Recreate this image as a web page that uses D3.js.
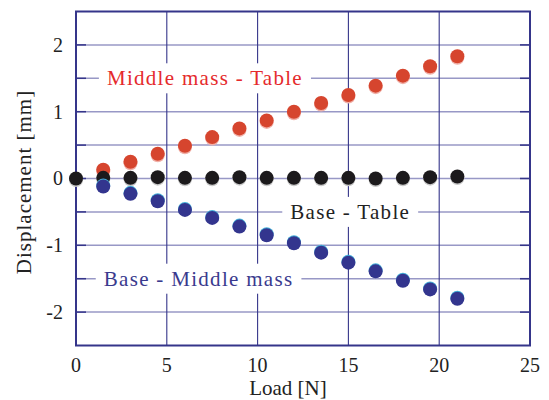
<!DOCTYPE html>
<html>
<head>
<meta charset="utf-8">
<script src="https://cdn.jsdelivr.net/npm/d3@7"></script>
<style>
  body { margin: 0; background: #fff; }
  svg { display: block; font-family: "Liberation Serif", "Times New Roman", serif; }
</style>
</head>
<body>
<div id="chart"></div>
<script>
// load steps [N]
const loads = [0, 1.5, 3, 4.5, 6, 7.5, 9, 10.5, 12, 13.5, 15, 16.5, 18, 19.5, 21];

// displacement [mm] per pair
const middleTable = [null, 0.13, 0.25, 0.37, 0.49, 0.62, 0.75, 0.87, 1.0, 1.13, 1.25, 1.39, 1.54, 1.68, 1.83];
const baseTable = [0, 0.01, 0.01, 0.02, 0.01, 0.01, 0.02, 0.01, 0.01, 0.01, 0.01, 0.0, 0.01, 0.02, 0.03];
const baseMiddle = [null, -0.12, -0.23, -0.34, -0.47, -0.59, -0.72, -0.85, -0.97, -1.11, -1.26, -1.39, -1.53, -1.66, -1.80];

const xTicks = [0, 5, 10, 15, 20, 25];
const yTicks = [-2, -1, 0, 1, 2];
const yGrid = [-2, -1.5, -1, -0.5, 0, 0.5, 1, 1.5, 2];

const W = 549, H = 400;
const margin = { top: 11.5, right: 19, bottom: 54.5, left: 76 };
const innerW = W - margin.left - margin.right;
const innerH = H - margin.top - margin.bottom;

const frameColor = "#35358a";
const gridColor = "#9898c6";

const svg = d3.select("#chart").append("svg")
  .attr("width", W)
  .attr("height", H);

const g = svg.append("g")
  .attr("transform", `translate(${margin.left},${margin.top})`);

const x = d3.scaleLinear().domain([0, 25]).range([0, innerW]);
const y = d3.scaleLinear().domain([-2.5, 2.5]).range([innerH, 0]);

// horizontal grid (light)
g.append("g").selectAll("line")
  .data(yGrid)
  .join("line")
  .attr("x1", 0).attr("x2", innerW)
  .attr("y1", d => y(d)).attr("y2", d => y(d))
  .attr("stroke", gridColor)
  .attr("stroke-width", 1.5);

// vertical grid (dark)
g.append("g").selectAll("line")
  .data(xTicks.slice(1, -1))
  .join("line")
  .attr("x1", d => x(d)).attr("x2", d => x(d))
  .attr("y1", 0).attr("y2", innerH)
  .attr("stroke", frameColor)
  .attr("stroke-width", 1.1);

// inner tick marks on left and right edges
const tickLen = 10;
g.append("g").selectAll("line")
  .data(yGrid)
  .join("line")
  .attr("x1", 0).attr("x2", tickLen)
  .attr("y1", d => y(d)).attr("y2", d => y(d))
  .attr("stroke", frameColor)
  .attr("stroke-width", 1.5);
g.append("g").selectAll("line")
  .data(yGrid)
  .join("line")
  .attr("x1", innerW - tickLen).attr("x2", innerW)
  .attr("y1", d => y(d)).attr("y2", d => y(d))
  .attr("stroke", frameColor)
  .attr("stroke-width", 1.5);

// series labels with white boxes over the grid
const labels = [
  { text: "Middle mass - Table", lx: 7.1, ly: 1.5, color: "#e52a2c" },
  { text: "Base - Table", lx: 15.1, ly: -0.5, color: "#222" },
  { text: "Base - Middle mass", lx: 6.75, ly: -1.5, color: "#3a3a8e" }
];
const lab = g.append("g").selectAll("g")
  .data(labels)
  .join("g")
  .attr("transform", d => `translate(${x(d.lx)},${y(d.ly)})`);
const labText = lab.append("text")
  .attr("text-anchor", "middle")
  .attr("dy", "0.34em")
  .attr("fill", d => d.color)
  .style("font-size", "21px")
  .style("letter-spacing", "1.3px")
  .text(d => d.text);
labText.each(function () {
  const b = this.getBBox();
  d3.select(this.parentNode).insert("rect", "text")
    .attr("x", b.x - 8).attr("y", -15)
    .attr("width", b.width + 16).attr("height", 30)
    .attr("fill", "#fff");
});

// frame
g.append("rect")
  .attr("width", innerW).attr("height", innerH)
  .attr("fill", "none")
  .attr("stroke", frameColor)
  .attr("stroke-width", 2);

// dots
const series = [
  { values: middleTable, fill: "#d6452e", shade: "#f0b0a8", dy: 1.5 },
  { values: baseTable, fill: "#1c1a1c", shade: "#c8c8c8", dy: 1.5 },
  { values: baseMiddle, fill: "#33358e", shade: "#44b0d8", dy: -1 }
];
series.forEach(s => {
  const pts = loads.map((l, i) => ({ l, v: s.values[i] })).filter(d => d.v !== null);
  const sg = g.append("g");
  sg.selectAll("circle.shade")
    .data(pts)
    .join("circle")
    .attr("class", "shade")
    .attr("cx", d => x(d.l))
    .attr("cy", d => y(d.v) + s.dy)
    .attr("r", 7)
    .attr("fill", s.shade);
  sg.selectAll("circle.dot")
    .data(pts)
    .join("circle")
    .attr("class", "dot")
    .attr("cx", d => x(d.l))
    .attr("cy", d => y(d.v))
    .attr("r", 7)
    .attr("fill", s.fill);
});

// tick labels
g.append("g").selectAll("text")
  .data(xTicks)
  .join("text")
  .attr("x", d => x(d))
  .attr("y", innerH + 26)
  .attr("text-anchor", "middle")
  .style("font-size", "20px")
  .attr("fill", "#222")
  .text(d => d);

g.append("g").selectAll("text")
  .data(yTicks)
  .join("text")
  .attr("x", -13)
  .attr("y", d => y(d))
  .attr("dy", "0.34em")
  .attr("text-anchor", "end")
  .style("font-size", "20px")
  .attr("fill", "#222")
  .text(d => d);

// axis titles
svg.append("text")
  .attr("x", 288)
  .attr("y", 395)
  .attr("text-anchor", "middle")
  .style("font-size", "21px")
  .attr("fill", "#222")
  .text("Load [N]");

svg.append("text")
  .attr("transform", "translate(31,182) rotate(-90)")
  .attr("text-anchor", "middle")
  .style("font-size", "21px")
  .style("letter-spacing", "1px")
  .attr("fill", "#222")
  .text("Displacement [mm]");
</script>
</body>
</html>
